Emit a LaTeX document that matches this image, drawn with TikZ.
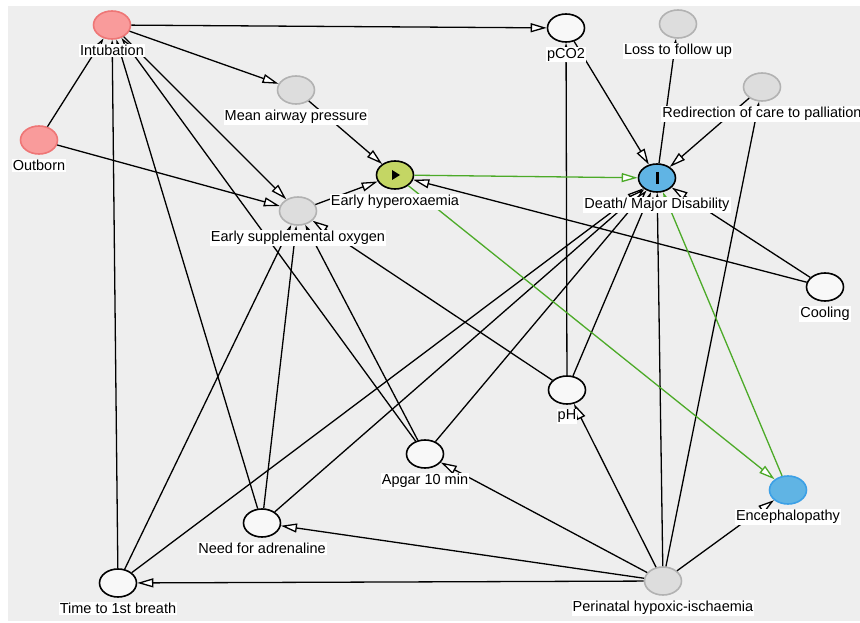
\documentclass[tikz,border=0pt]{standalone}
\usepackage{fontspec}
\setmainfont{Liberation Sans}
\usetikzlibrary{arrows.meta,positioning,shapes.geometric,calc}

\definecolor{bgcol}{RGB}{238,238,238}
\definecolor{adjfill}{RGB}{249,155,155}
\definecolor{adjdraw}{RGB}{238,118,118}
\definecolor{latfill}{RGB}{221,221,221}
\definecolor{latdraw}{RGB}{178,178,178}
\definecolor{obsfill}{RGB}{248,248,248}
\definecolor{expfill}{RGB}{196,214,100}
\definecolor{outfill}{RGB}{96,180,228}
\definecolor{outdraw}{RGB}{60,160,230}
\definecolor{pathcol}{RGB}{76,170,40}

\begin{document}
\begin{tikzpicture}[x=1pt,y=-1pt,
  every node/.style={font=\fontsize{14.5}{16}\selectfont},
  var/.style={ellipse,minimum width=37pt,minimum height=28pt,inner sep=0pt,line width=1.6pt},
  obs/.style={var,draw=black,fill=obsfill},
  adj/.style={var,draw=adjdraw,fill=adjfill},
  lat/.style={var,draw=latdraw,fill=latfill},
  expo/.style={var,draw=black,fill=expfill},
  outc/.style={var,draw=black,fill=outfill},
  lb/.style={fill=white,inner sep=1pt},
  ar/.style={-{Triangle[length=16pt,width=9pt,fill=white]},line width=1.3pt},
  cp/.style={ar,draw=pathcol}]
\useasboundingbox (0,0) rectangle (860,623);
\fill[bgcol] (8,6) rectangle (860,621);
% variables
\node[adj] (intub) at (112,25) {};
\node[adj] (outb) at (39,140) {};
\node[lat] (map) at (296,90) {};
\node[lat] (eso) at (298,211) {};
\node[expo] (hyper) at (395,175) {};
\node[obs] (pco2) at (566,28) {};
\node[lat] (loss) at (678,24) {};
\node[lat] (redir) at (762,87) {};
\node[outc] (death) at (657,178) {};
\node[obs] (cool) at (825,287) {};
\node[obs] (ph) at (567,390) {};
\node[obs] (apgar) at (425,454) {};
\node[outc,draw=outdraw] (enc) at (788,490) {};
\node[obs] (adren) at (262,523) {};
\node[obs] (breath) at (118,583) {};
\node[lat] (phi) at (663,581) {};
\fill ($(hyper.center)+(-3,-5)$) -- ++(8,5) -- ++(-8,5) -- cycle;
\draw[line width=3pt] ($(death.center)+(0,-6)$) -- ($(death.center)+(0,6)$);
% edges
\draw[ar] (outb) -- (intub);
\draw[ar] (outb) -- (eso);
\draw[ar] (intub) -- (pco2);
\draw[ar] (intub) -- (map);
\draw[ar] (intub) -- (eso);
\draw[ar] (breath) -- (intub);
\draw[ar] (adren) -- (intub);
\draw[ar] (apgar) -- (intub);
\draw[ar] (map) -- (hyper);
\draw[ar] (eso) -- (hyper);
\draw[ar] (breath) -- (eso);
\draw[ar] (adren) -- (eso);
\draw[ar] (apgar) -- (eso);
\draw[ar] (ph) -- (eso);
\draw[ar] (cool) -- (hyper);
\draw[ar] (cool) -- (death);
\draw[ar] (pco2) -- (death);
\draw[ar] (ph) -- (pco2);
\draw[ar] (death) -- (loss);
\draw[ar] (redir) -- (death);
\draw[ar] (phi) -- (redir);
\draw[ar] (breath) -- (death);
\draw[ar] (adren) -- (death);
\draw[ar] (apgar) -- (death);
\draw[ar] (ph) -- (death);
\draw[ar] (phi) -- (death);
\draw[ar] (phi) -- (breath);
\draw[ar] (phi) -- (adren);
\draw[ar] (phi) -- (apgar);
\draw[ar] (phi) -- (ph);
\draw[ar] (phi) -- (enc);
\draw[cp] (hyper) -- (death);
\draw[cp] (hyper) -- (enc);
\draw[cp] (enc) -- (death);
% labels
\node[lb,below=4pt of intub] (intubL) {Intubation};
\node[lb,below=4pt of outb] (outbL) {Outborn};
\node[lb,below=4pt of map] (mapL) {Mean airway pressure};
\node[lb,below=4pt of eso] (esoL) {Early supplemental oxygen};
\node[lb,below=4pt of hyper] (hyperL) {Early hyperoxaemia};
\node[lb,below=4pt of pco2] (pco2L) {pCO2};
\node[lb,below=4pt of loss] (lossL) {Loss to follow up};
\node[lb,below=4pt of redir] (redirL) {Redirection of care to palliation};
\node[lb,below=4pt of death] (deathL) {Death/ Major Disability};
\node[lb,below=4pt of cool] (coolL) {Cooling};
\node[lb,below=4pt of ph] (phL) {pH};
\node[lb,below=4pt of apgar] (apgarL) {Apgar 10 min};
\node[lb,below=4pt of enc] (encL) {Encephalopathy};
\node[lb,below=4pt of adren] (adrenL) {Need for adrenaline};
\node[lb,below=4pt of breath] (breathL) {Time to 1st breath};
\node[lb,below=4pt of phi] (phiL) {Perinatal hypoxic-ischaemia};
\end{tikzpicture}
\end{document}
